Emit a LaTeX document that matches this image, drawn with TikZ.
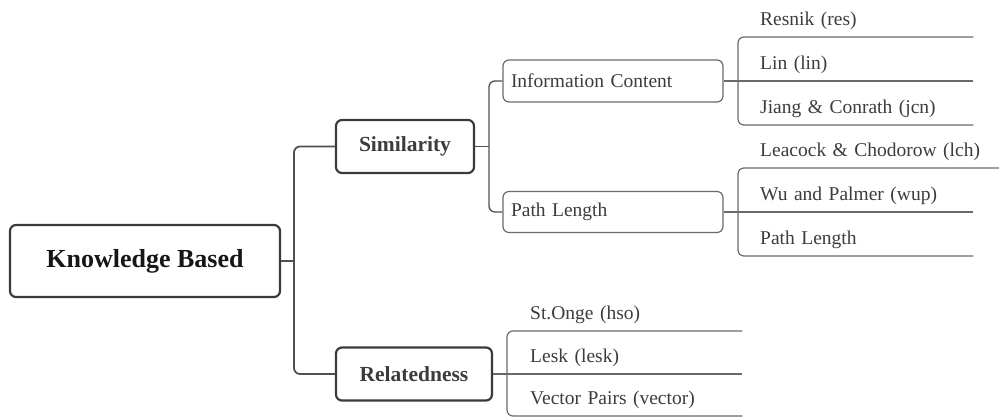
\documentclass[tikz,border=0pt]{standalone}
\usepackage{fontspec}
\setmainfont{Liberation Serif}
\definecolor{boxgray}{HTML}{3A3A3A}
\definecolor{linegray}{HTML}{505050}
\definecolor{thingray}{HTML}{6A6A6A}
\definecolor{textdark}{HTML}{161616}
\definecolor{textgray}{HTML}{3C3C3C}
\begin{document}
\begin{tikzpicture}[x=1pt,y=-1pt,
  rootbox/.style={draw=boxgray, line width=2.2pt, rounded corners=6pt, inner sep=0pt,
    minimum width=270pt, minimum height=72pt, text=textdark,
    font=\bfseries\fontsize{26}{30}\selectfont},
  topicbox/.style={draw=boxgray, line width=2.2pt, rounded corners=6pt, inner sep=0pt,
    minimum height=53pt, text=textgray, font=\bfseries\fontsize{21.5}{25}\selectfont},
  subbox/.style={draw=thingray, line width=1.2pt, rounded corners=6pt, inner xsep=8pt,
    inner ysep=0pt, text width=204pt, align=left, minimum height=42pt, text=textgray,
    font=\fontsize{19.5}{22}\selectfont},
  leaf/.style={anchor=south west, inner xsep=0pt, inner ysep=0pt, text depth=11pt,
    align=left, text=textgray, font=\fontsize{19.5}{22}\selectfont},
  trunk/.style={draw=linegray, line width=1.8pt},
  branch/.style={draw=linegray, line width=1.3pt},
  twig/.style={draw=thingray, line width=1.2pt},
  elbow/.style={rounded corners=6pt}]
\useasboundingbox (0,0) rectangle (999,416);

% main hierarchy
\node[rootbox] (kb) at (145,261) {Knowledge Based};
\node[topicbox, minimum width=138pt] (sim) at (405,146.5) {Similarity};
\node[topicbox, minimum width=156pt] (rel) at (414,374) {Relatedness};
\node[subbox] (ic) at (613,81) {Information Content};
\node[subbox, minimum height=41pt] (pl) at (613,212) {Path Length};

% junction points of the brackets
\coordinate (kbj) at (294,261);
\coordinate (simj) at (489,146.5);
\coordinate (icj) at (738,81);
\coordinate (plj) at (738,212);
\coordinate (relj) at (507,374);

% leaves under Information Content
\node[leaf, text width=213pt] (res) at (760,37) {Resnik (res)};
\node[leaf, text width=213pt] (lin) at (760,81) {Lin (lin)};
\node[leaf, text width=213pt] (jcn) at (760,125) {Jiang \& Conrath (jcn)};

% leaves under Path Length
\node[leaf, text width=239pt] (lch) at (760,168) {Leacock \& Chodorow (lch)};
\node[leaf, text width=213pt] (wup) at (760,212) {Wu and Palmer (wup)};
\node[leaf, text width=213pt] (pth) at (760,256) {Path Length};

% leaves under Relatedness
\node[leaf, text width=212pt] (hso) at (530,331) {St.Onge (hso)};
\node[leaf, text width=212pt] (lesk) at (530,374) {Lesk (lesk)};
\node[leaf, text width=212pt] (vec) at (530,416) {Vector Pairs (vector)};

% root to topics
\draw[trunk] (kb.east) -- (kbj);
\draw[trunk, elbow] (kbj) |- (sim.west);
\draw[trunk, elbow] (kbj) |- (rel.west);

% similarity to its subtopics
\draw[branch] (sim.east) -- (simj);
\draw[branch, elbow] (simj) |- (ic.west);
\draw[branch, elbow] (simj) |- (pl.west);

% subtopics to leaves
\draw[twig] (ic.east) -- (lin.south east);
\draw[twig, elbow] (res.south east) -| (icj |- jcn.south) -- (jcn.south east);
\draw[twig] (pl.east) -- (wup.south east);
\draw[twig, elbow] (lch.south east) -| (plj |- pth.south) -- (pth.south east);
\draw[twig] (rel.east) -- (lesk.south east);
\draw[twig, elbow] (hso.south east) -| (relj |- vec.south) -- (vec.south east);
\end{tikzpicture}
\end{document}
